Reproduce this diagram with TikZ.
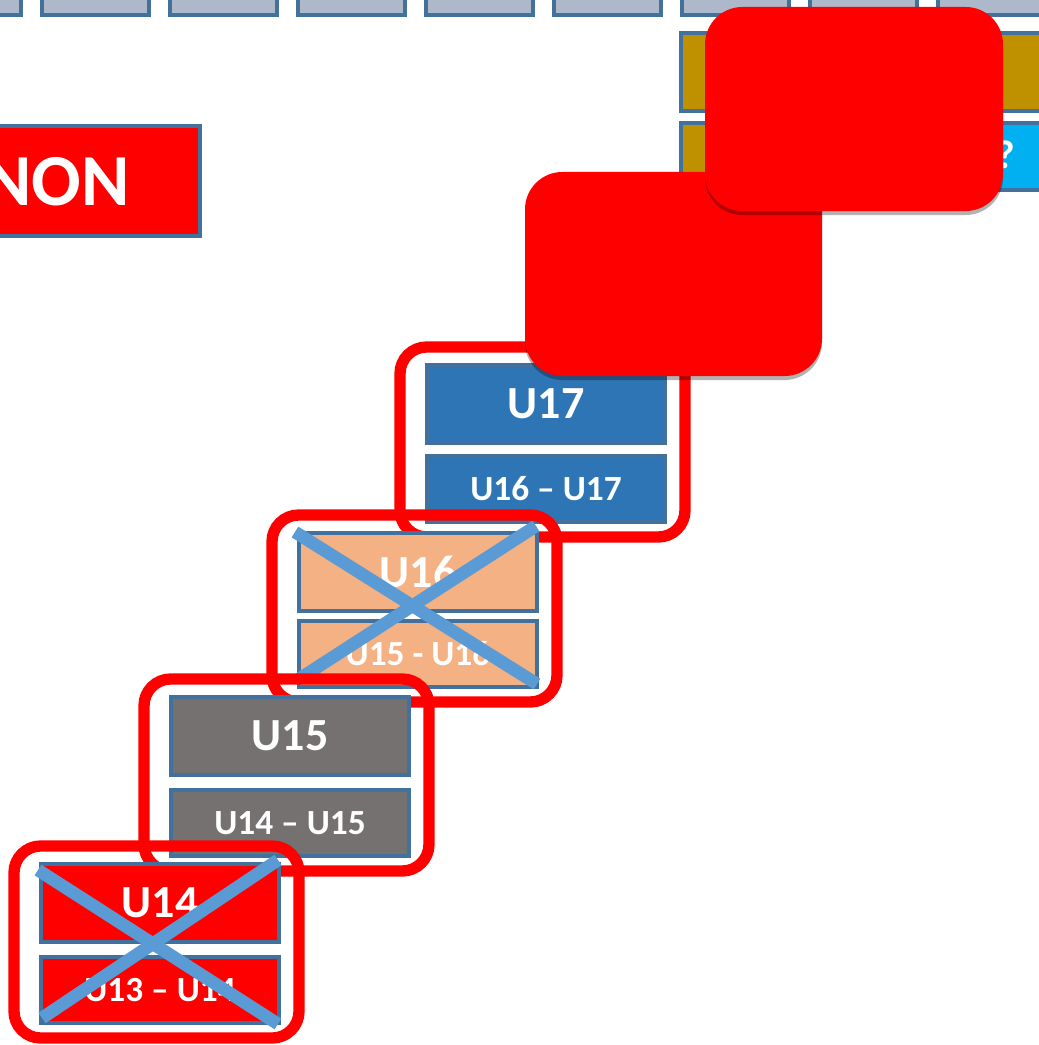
\documentclass[tikz,border=0pt]{standalone}
\usepackage{fontspec}
\setmainfont{Carlito}
\usetikzlibrary{shadows}

\begin{document}
\begin{tikzpicture}[x=0.75pt,y=0.75pt,yscale=-1,xscale=1,
    edge/.style={draw={rgb, 255:red, 65; green, 113; blue, 156 }, line width=3pt},
    tile/.style={edge, inner sep=0pt, anchor=north west, text=white, font=\bfseries},
    strip/.style={tile, fill={rgb, 255:red, 173; green, 185; blue, 202 }, minimum width=80.25pt, minimum height=54.75pt},
    yearbox/.style={tile, minimum width=178.5pt, minimum height=58.5pt, font=\fontsize{34.5}{35}\bfseries},
    spanbox/.style={tile, minimum width=178.5pt, minimum height=49.5pt, font=\fontsize{26.5}{27}\bfseries},
    frame/.style={draw={rgb, 255:red, 255; green, 0; blue, 0 }, line width=8.5pt, rounded corners=20pt},
    cross/.style={draw={rgb, 255:red, 91; green, 155; blue, 213 }, line width=9.5pt},
    cover/.style={fill={rgb, 255:red, 255; green, 0; blue, 0 }, rounded corners=28pt, inner sep=0pt,
        drop shadow={shadow xshift=0pt, shadow yshift=-3pt, opacity=0.3, fill=black}}
  ]
    \useasboundingbox (0,0) rectangle (1038,1045);

    %Shape: Rectangle row along the top
    \foreach \i in {0,...,8}
      \draw (-88+128*\i,-60) node [strip] (s\i) {};

    %Shape: Rectangle [gold rows]
    \draw (679,31) node [tile, fill={rgb, 255:red, 191; green, 144; blue, 0 }, minimum width=312.75pt, minimum height=58.5pt] (g1) {};
    \draw (679,121) node [tile, fill={rgb, 255:red, 191; green, 144; blue, 0 }, minimum width=134.25pt, minimum height=50.25pt] (g2) {};
    \draw (868,121) node [tile, fill={rgb, 255:red, 0; green, 176; blue, 240 }, minimum width=171pt, minimum height=50.25pt] (c2) {};
    % Text Node
    \draw (996,168) node [anchor=base west, inner sep=0pt, text=white, font=\fontsize{30}{30}\bfseries] (q) {?};

    %Shape: Rectangle [NON]
    \draw (-60,124) node [tile, fill={rgb, 255:red, 255; green, 0; blue, 0 }, minimum width=193.5pt, minimum height=82.5pt] (non) {};
    % Text Node
    \draw (130,205) node [anchor=base east, inner sep=0pt, text=white, font=\fontsize{55}{55}\bfseries] (nontxt) {NON};

    %Shape: U17
    \draw (425,363) node [yearbox, fill={rgb, 255:red, 46; green, 117; blue, 182 }] (u17) {U17};
    \draw (425,454) node [spanbox, fill={rgb, 255:red, 46; green, 117; blue, 182 }] (u17r) {U16 -- U17};
    \draw [frame] ([shift={(-25,-16)}]u17.north west) rectangle ([shift={(18,13)}]u17r.south east);

    %Shape: U16
    \draw (297,531) node [yearbox, fill={rgb, 255:red, 244; green, 177; blue, 131 }] (u16) {U16};
    \draw (297,619) node [spanbox, fill={rgb, 255:red, 244; green, 177; blue, 131 }] (u16r) {U15 - U16};
    \draw [cross] ([shift={(-2,1)}]u16.north west) -- ([shift={(-2,-5)}]u16r.south east);
    \draw [cross] ([shift={(2,-10)}]u16r.south west) -- ([shift={(-3,-5)}]u16.north east);
    \draw [frame] ([shift={(-25,-16)}]u16.north west) rectangle ([shift={(18,13)}]u16r.south east);

    %Shape: U15
    \draw (169,695) node [yearbox, fill={rgb, 255:red, 118; green, 113; blue, 113 }] (u15) {U15};
    \draw (169,788) node [spanbox, fill={rgb, 255:red, 118; green, 113; blue, 113 }] (u15r) {U14 -- U15};
    \draw [frame] ([shift={(-25,-16)}]u15.north west) rectangle ([shift={(18,13)}]u15r.south east);

    %Shape: U14
    \draw (39,862) node [yearbox, fill={rgb, 255:red, 255; green, 0; blue, 0 }] (u14) {U14};
    \draw (39,955) node [spanbox, fill={rgb, 255:red, 255; green, 0; blue, 0 }] (u14r) {U13 -- U14};
    \draw [cross] ([shift={(-1,8)}]u14.north west) -- ([shift={(-3,-1)}]u14r.south east);
    \draw [cross] ([shift={(3,-7)}]u14r.south west) -- ([shift={(-3,-2)}]u14.north east);
    \draw [frame] ([shift={(-25,-16)}]u14.north west) rectangle ([shift={(18,13)}]u14r.south east);

    %Shape: Rounded covers
    \draw (673.5,274) node [cover, minimum width=222.75pt, minimum height=153pt] (hide2) {};
    \draw (854,109) node [cover, minimum width=223.5pt, minimum height=153pt] (hide1) {};

\end{tikzpicture}
\end{document}
